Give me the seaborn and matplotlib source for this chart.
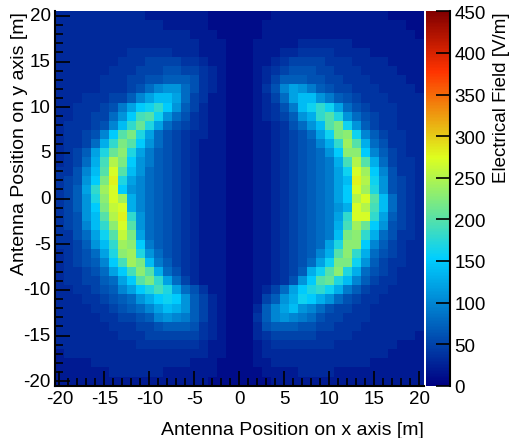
"""
Electric field footprint of the antenna array as a ROOT-style colz map
"""
import numpy as np
import pandas as pd
import matplotlib
matplotlib.use("Agg")
import matplotlib.pyplot as plt
from matplotlib.colors import LinearSegmentedColormap
import seaborn as sns

x_pos = list(range(-20, 21))
y_pos = list(range(20, -21, -1))
axis_ticks = [-20, -15, -10, -5, 0, 5, 10, 15, 20]
cbar_ticks = [0, 50, 100, 150, 200, 250, 300, 350, 400, 450]

# one char per bin, value = index in CODE * 10 V/m; rows go from y=20 (top) to y=-20
CODE = "0123456789ABCDEFGHIJKLMNOPQRSTUVWXYZ"
field_rows = [
    "3333333333" "2222222111" "1" "1112222222" "2222221111",
    "3333333333" "3322222111" "1" "1122222222" "2222222211",
    "3333333333" "3333322211" "1" "1122222222" "2222222221",
    "3333333333" "3333332221" "1" "1222223333" "3322222222",
    "3333333344" "4443332221" "1" "1222334444" "3333222222",
    "3333333444" "5555443221" "1" "1223455554" "4433332222",
    "3333334445" "5566554321" "1" "1234566655" "4443333222",
    "3333344455" "6677764321" "1" "1235777665" "5444333322",
    "3333344456" "8ABB864321" "1" "1246ACB976" "5544433332",
    "333444557A" "CEEC854221" "1" "12358CEEB9" "7654443333",
    "33444569CF" "GIFB753221" "1" "123469EGIG" "C865444333",
    "3344558BFJ" "KGB8643221" "1" "123457BDIK" "HB86544333",
    "344456AEIL" "HC86543221" "1" "1223468BEK" "MGB7544333",
    "34456AFKMH" "C865433221" "1" "12234568CG" "MNGA754433",
    "34458DIMKF" "B865432221" "1" "12234567AD" "IOKD864433",
    "3457CHLNHC" "9765432221" "1" "122345678B" "FNNFA75433",
    "3458DJPMFB" "9765432221" "1" "1223456789" "DJPKD85443",
    "446AEKRKEB" "8765432221" "1" "1223456789" "CGROFA6443",
    "456BFMSHCA" "8765432221" "1" "1223456789" "CESPGB6543",
    "457CIORFBA" "8765432221" "1" "1223456789" "CFROHB6543",
    "457BHNRODA" "8765432221" "1" "1223456789" "CFPRKE8543",
    "457BFMQRDA" "8765432221" "1" "1223456789" "BDRPJE8543",
    "456BEKPSIB" "8765432221" "1" "1223456789" "CIRRIC7543",
    "456AEINRKB" "8765432221" "1" "1223456789" "DJOLFB6543",
    "4468CGKQMC" "8765432221" "1" "1223456789" "EMNID86443",
    "4457BEIONF" "9765432221" "1" "122345678C" "HNNFA75433",
    "34568CHNOH" "B865432221" "1" "12234567AD" "KNID865433",
    "34567AFJOM" "E975432221" "1" "12234568CG" "MMGB754433",
    "344568CFJN" "KD86432221" "1" "1223457DGK" "NHD8654333",
    "3445578CFK" "MIC8532221" "1" "122346BFKL" "HEA7544333",
    "3344567ACF" "HJHC864221" "1" "12358CFHIG" "D975443333",
    "333445678B" "DFGFB75321" "1" "1257BDGFDB" "8654433333",
    "3333445678" "ACEDB75321" "1" "137ACEBA86" "5544333333",
    "3333344556" "7ABA975321" "1" "147ABA9865" "5444333333",
    "3333334445" "5677764321" "1" "1367776655" "4443333333",
    "3333333444" "5555554321" "1" "1345555544" "4433333332",
    "3333333334" "4444443221" "1" "1234444444" "3333333222",
    "2333333333" "3333333221" "1" "1233333333" "3333332222",
    "2222333333" "3333322211" "1" "1223333333" "3333222222",
    "2222223333" "3322222211" "1" "1122223333" "2222222222",
    "2222222222" "2222222111" "1" "1112222222" "2222222222",
]

field = np.array([[CODE.index(c) * 10 for c in row] for row in field_rows], dtype=float)
df = pd.DataFrame(field, index=y_pos, columns=x_pos)

# ROOT style rainbow gradient
stops = [0.0, 0.34, 0.61, 0.84, 1.0]
red = [0.0, 0.0, 0.87, 1.0, 0.51]
green = [0.0, 0.81, 1.0, 0.2, 0.0]
blue = [0.51, 1.0, 0.12, 0.0, 0.0]
cmap = LinearSegmentedColormap.from_list("root", list(zip(stops, zip(red, green, blue))))

plt.rcParams["font.family"] = ["Liberation Sans", "DejaVu Sans"]

fig = plt.figure(figsize=(5.13, 4.39), dpi=100)
ax = fig.add_axes([0.1072, 0.119, 0.7193, 0.853])
cax = fig.add_axes([0.8304, 0.119, 0.0468, 0.853])

sns.heatmap(df, ax=ax, cbar_ax=cax, cmap=cmap, vmin=0, vmax=450,
            linewidths=0, cbar_kws={"ticks": cbar_ticks})

# axis ticks at bin centres, ROOT style (inward, minor every metre)
ax.set_xticks([v + 20.5 for v in axis_ticks])
ax.set_xticklabels([str(v) for v in axis_ticks], rotation=0)
ax.set_xticks([j + 0.5 for j in range(41)], minor=True)
ax.set_yticks([20 - v + 0.5 for v in axis_ticks])
ax.set_yticklabels([str(v) for v in axis_ticks], rotation=0)
ax.set_yticks([i + 0.5 for i in range(41)], minor=True)
ax.tick_params(which="both", direction="in", color="black", width=1.2,
               labelsize=13.5, pad=3)
ax.tick_params(which="major", length=11)
ax.tick_params(which="minor", length=5.5)

for side in ["left", "bottom"]:
    ax.spines[side].set_visible(True)
    ax.spines[side].set_color("black")
    ax.spines[side].set_linewidth(1.5)

ax.set_xlabel("Antenna Position on x axis [m]", fontsize=14, loc="right", labelpad=10)
ax.set_ylabel("Antenna Position on y axis [m]", fontsize=14, loc="top", labelpad=-3)

cbar = ax.collections[0].colorbar
cbar.outline.set_visible(False)
cax.plot([1, 1], [0, 1], transform=cax.transAxes, color="black", lw=1.5, clip_on=False)
cax.tick_params(direction="in", length=10, width=1.2, labelsize=13.5, color="black", pad=3)
cax.set_ylabel("Electrical Field [V/m]", fontsize=13.5, loc="top", labelpad=5)

fig.savefig("out.png", dpi=100)
